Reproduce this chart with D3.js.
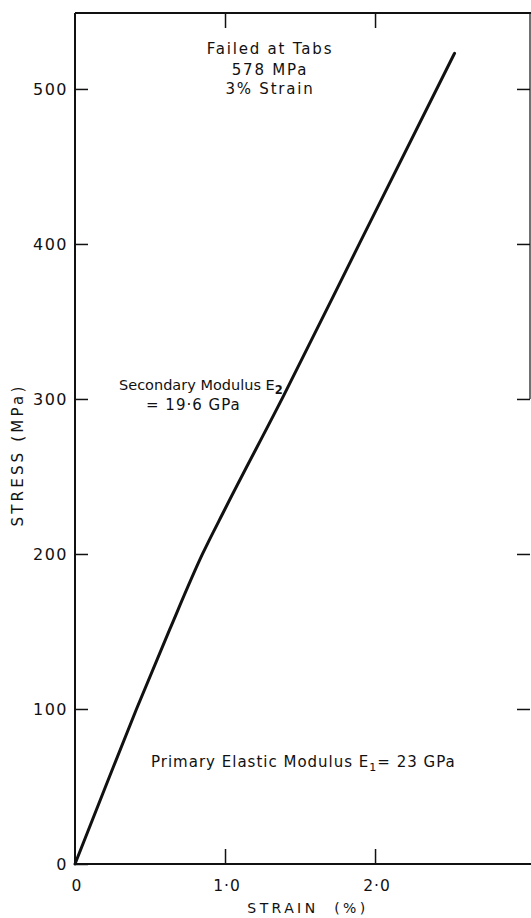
<!DOCTYPE html>
<html>
<head>
<meta charset="utf-8">
<script src="https://cdn.jsdelivr.net/npm/d3@7"></script>
<style>
  html, body { margin: 0; padding: 0; background: #fff; }
  svg { display: block; }
  text { font-family: "DejaVu Sans", sans-serif; fill: #111; }
</style>
</head>
<body>
<svg id="chart" width="531" height="918"></svg>
<script>
// ---- data ----
const strain = [0, 0.20, 0.41, 0.63, 0.85, 1.0, 1.39, 1.90, 2.53];
const stress = [0, 49, 100, 151, 200, 229, 302, 401, 523];
const xTicks = [0, 1, 2];
const xTickLabels = ["0", "1·0", "2·0"];
const yTicks = [0, 100, 200, 300, 400, 500];
const yTickLabels = ["0", "100", "200", "300", "400", "500"];
const xTitle = "STRAIN  (%)";
const yTitle = "STRESS (MPa)";
const failNotes = ["Failed at Tabs", "578 MPa", "3% Strain"];

// ---- layout ----
const svg = d3.select("#chart");
const L = 75, R = 530, T = 13, B = 864;
const x = d3.scaleLinear().domain([0, 3.033]).range([L, R]);
const y = d3.scaleLinear().domain([0, 549]).range([B, T]);
const ink = "#111";

// frame lines
svg.append("line").attr("x1", L).attr("x2", L).attr("y1", T).attr("y2", B)
  .attr("stroke", ink).attr("stroke-width", 2);
svg.append("line").attr("x1", L).attr("x2", 531).attr("y1", B).attr("y2", B)
  .attr("stroke", ink).attr("stroke-width", 2);
svg.append("line").attr("x1", L).attr("x2", 531).attr("y1", T).attr("y2", T)
  .attr("stroke", ink).attr("stroke-width", 2);
svg.append("line").attr("x1", R).attr("x2", R).attr("y1", T).attr("y2", y(300))
  .attr("stroke", ink).attr("stroke-width", 1.2);

// left axis ticks
const yAxisL = d3.axisRight(y).tickValues(yTicks).tickSize(13).tickFormat("");
const gL = svg.append("g").attr("transform", `translate(${L},0)`).call(yAxisL);
gL.select(".domain").remove();
gL.selectAll(".tick line").attr("stroke", ink).attr("stroke-width", 1.5);

// left labels
svg.append("g").selectAll("text").data(yTicks).join("text")
  .attr("x", L - 7).attr("y", d => y(d) + 6)
  .attr("text-anchor", "end").attr("font-size", 16)
  .attr("letter-spacing", 1.5)
  .text((d, i) => yTickLabels[i]);

// right axis ticks
const yAxisR = d3.axisLeft(y).tickValues(yTicks.slice(1)).tickSize(13).tickFormat("");
const gR = svg.append("g").attr("transform", `translate(${R},0)`).call(yAxisR);
gR.select(".domain").remove();
gR.selectAll(".tick line").attr("stroke", ink).attr("stroke-width", 1.5);

// bottom axis ticks (inward)
const xAxisB = d3.axisTop(x).tickValues(xTicks.slice(1)).tickSize(15).tickFormat("");
const gB = svg.append("g").attr("transform", `translate(0,${B})`).call(xAxisB);
gB.select(".domain").remove();
gB.selectAll(".tick line").attr("stroke", ink).attr("stroke-width", 1.5);

// top axis ticks (inward)
const xAxisT = d3.axisBottom(x).tickValues(xTicks.slice(1)).tickSize(15).tickFormat("");
const gT = svg.append("g").attr("transform", `translate(0,${T})`).call(xAxisT);
gT.select(".domain").remove();
gT.selectAll(".tick line").attr("stroke", ink).attr("stroke-width", 1.5);

// bottom labels
svg.append("g").selectAll("text").data(xTicks).join("text")
  .attr("x", d => x(d) + 2).attr("y", 891)
  .attr("text-anchor", "middle").attr("font-size", 15.5)
  .attr("letter-spacing", 1)
  .text((d, i) => xTickLabels[i]);

// axis titles
svg.append("text").attr("x", 308).attr("y", 913)
  .attr("text-anchor", "middle").attr("font-size", 14).attr("letter-spacing", 3.4)
  .attr("xml:space", "preserve")
  .text(xTitle);
svg.append("text").attr("transform", "translate(23,455) rotate(-90)")
  .attr("text-anchor", "middle").attr("font-size", 15).attr("letter-spacing", 3.2)
  .text(yTitle);

// curve
const pts = strain.map((s, i) => [s, stress[i]]);
svg.append("path").datum(pts)
  .attr("fill", "none").attr("stroke", ink).attr("stroke-width", 3)
  .attr("stroke-linejoin", "round").attr("stroke-linecap", "round")
  .attr("d", d3.line().x(d => x(d[0])).y(d => y(d[1])).curve(d3.curveMonotoneX));

// annotations
const notes = svg.append("g").attr("font-size", 15);
const noteY = [54, 75, 94];
notes.selectAll("text.fail").data(failNotes).join("text")
  .attr("class", "fail")
  .attr("x", 270).attr("y", (d, i) => noteY[i])
  .attr("text-anchor", "middle").attr("letter-spacing", 1.8)
  .text(d => d);

const t2 = notes.append("text").attr("x", 119).attr("y", 390)
  .attr("font-size", 14.5).attr("letter-spacing", 0);
t2.append("tspan").text("Secondary Modulus E");
t2.append("tspan").attr("dy", 4).attr("font-size", 11.5).attr("font-weight", "bold").text("2");
notes.append("text").attr("x", 146).attr("y", 410).attr("letter-spacing", 1).text("= 19·6 GPa");

const t1 = notes.append("text").attr("x", 151).attr("y", 767).attr("letter-spacing", 1);
t1.append("tspan").text("Primary Elastic Modulus E");
t1.append("tspan").attr("dy", 4).attr("font-size", 11).text("1");
t1.append("tspan").attr("dy", -4).text("= 23 GPa");
</script>
</body>
</html>
